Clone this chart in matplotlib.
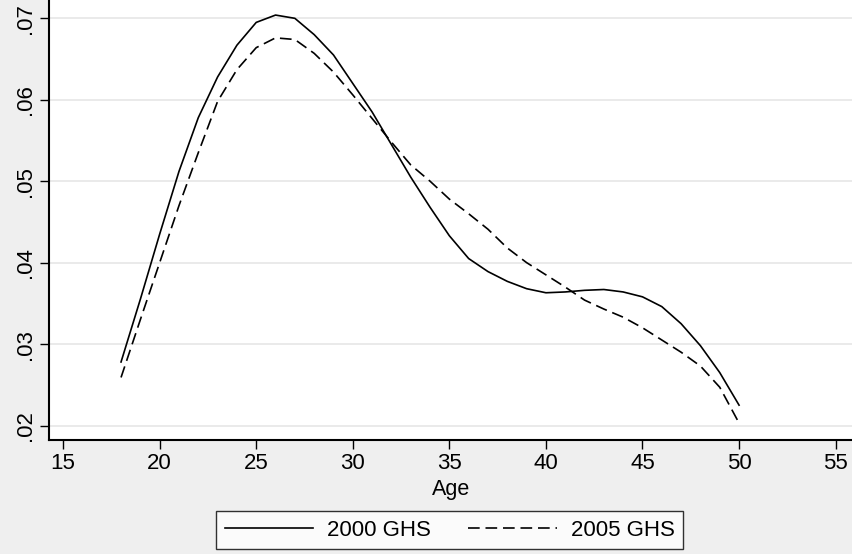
import matplotlib.pyplot as plt
import numpy as np

plt.rcParams['font.family'] = ['Liberation Sans', 'DejaVu Sans']

# density by age
age = list(range(18, 51))
ghs2000 = [.0278, .0355, .0435, .0512, .0578, .0628, .0667, .0695, .0704, .0700,
           .0680, .0655, .0620, .0585, .0545, .0505, .0468, .0433, .0405, .0389,
           .0377, .0368, .0363, .0364, .0366, .0367, .0364, .0358, .0346, .0325,
           .0298, .0265, .0225]
ghs2005 = [.0259, .0330, .0400, .0470, .0535, .0598, .0637, .0664, .0676, .0674,
           .0657, .0634, .0606, .0577, .0548, .0520, .0500, .0478, .0460, .0441,
           .0418, .0400, .0385, .0370, .0354, .0343, .0333, .0320, .0305, .0290,
           .0273, .0247, .0203]
xticks = [15, 20, 25, 30, 35, 40, 45, 50, 55]
yticks = [.02, .03, .04, .05, .06, .07]
ylabels = ['.02', '.03', '.04', '.05', '.06', '.07']

bg = '#efefef'
fig = plt.figure(figsize=(8.53, 5.54), dpi=100, facecolor=bg)
ax = fig.add_axes([49 / 853, 114 / 554, 804 / 853, 440 / 554])
ax.set_facecolor('white')

ax.plot(age, ghs2000, color='black', lw=1.2, label='2000 GHS')
ax.plot(age, ghs2005, color='black', lw=1.2, dashes=(7, 3.5), label='2005 GHS')

ax.set_xlim(14.27, 55.9)
ax.set_ylim(.01822, .07225)
ax.set_xticks(xticks)
ax.set_yticks(yticks)
ax.set_yticklabels(ylabels, rotation=90, va='center')
ax.grid(axis='y', color='#e6e6e6', lw=1.2)
ax.set_axisbelow(True)

for s in ['top', 'right']:
    ax.spines[s].set_visible(False)
for s in ['left', 'bottom']:
    ax.spines[s].set_linewidth(1.5)
ax.tick_params(labelsize=16, length=6.5, width=1, pad=3)
ax.set_xlabel('Age', fontsize=15.5, va='center')
ax.xaxis.set_label_coords(0.5, -49 / 440)

leg = fig.legend(loc='center', bbox_to_anchor=(449.5 / 853, 1 - 530 / 554), ncol=2,
                 fontsize=16, frameon=True, fancybox=False, handlelength=4.0,
                 handletextpad=0.6, columnspacing=1.7, borderpad=0.4)
leg.get_frame().set_edgecolor('black')
leg.get_frame().set_linewidth(1)

fig.savefig('out.png', facecolor=bg)
